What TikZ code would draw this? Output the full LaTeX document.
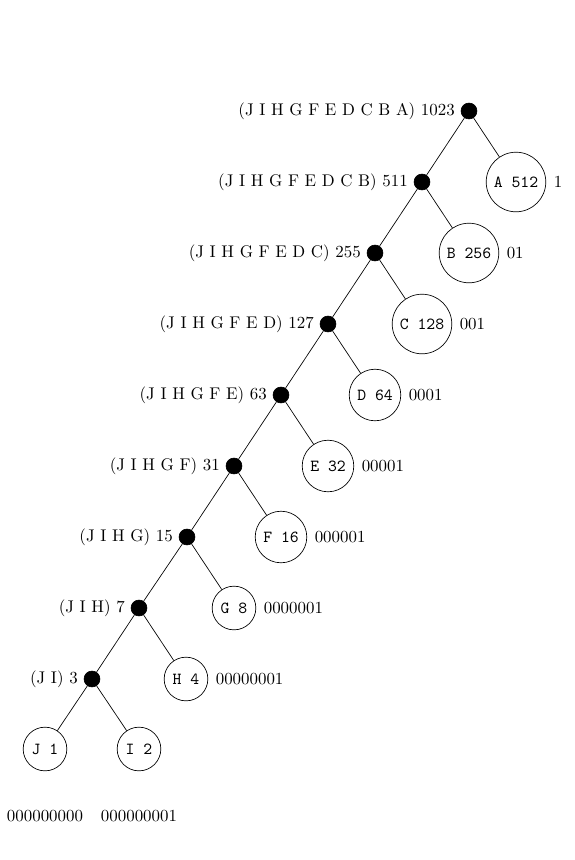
\documentclass[tikz,border=0pt]{standalone}
\begin{document}
\begin{tikzpicture}[x=0.5917pt,y=-0.5917pt,
  inner/.style={circle,fill=black,draw=black,inner sep=0pt,minimum size=9.4pt},
  leaf/.style={circle,draw=black,font=\ttfamily},
  code/.style={label distance=1pt},
  edge/.style={draw=black,line width=0.4pt}]
\useasboundingbox (0,0) rectangle (575,860);
\node[inner,label=left:{(J I H G F E D C B A) 1023}] (n1023) at (469,111) {};
\node[inner,label=left:{(J I H G F E D C B) 511}] (n511) at (422,182) {};
\node[inner,label=left:{(J I H G F E D C) 255}] (n255) at (375,253) {};
\node[inner,label=left:{(J I H G F E D) 127}] (n127) at (328,324) {};
\node[inner,label=left:{(J I H G F E) 63}] (n63) at (281,395) {};
\node[inner,label=left:{(J I H G F) 31}] (n31) at (234,466) {};
\node[inner,label=left:{(J I H G) 15}] (n15) at (187,537) {};
\node[inner,label=left:{(J I H) 7}] (n7) at (139,608) {};
\node[inner,label=left:{(J I) 3}] (n3) at (92,679) {};
\node[leaf,label={[code]right:1}] (A) at (516,182) {A 512};
\node[leaf,label={[code]right:01}] (B) at (469,253) {B 256};
\node[leaf,label={[code]right:001}] (C) at (422,324) {C 128};
\node[leaf,label={[code]right:0001}] (D) at (375,395) {D 64};
\node[leaf,label={[code]right:00001}] (E) at (328,466) {E 32};
\node[leaf,label={[code]right:000001}] (F) at (281,537) {F 16};
\node[leaf,label={[code]right:0000001}] (G) at (234,608) {G 8};
\node[leaf,label={[code]right:00000001}] (H) at (186,679) {H 4};
\node[leaf,label={[label distance=19.5pt]below:000000000}] (J) at (45,749) {J 1};
\node[leaf,label={[label distance=19.5pt]below:000000001}] (I) at (139,749) {I 2};
\draw[edge] (n1023) -- (n511);
\draw[edge] (n1023) -- (A);
\draw[edge] (n511) -- (n255);
\draw[edge] (n511) -- (B);
\draw[edge] (n255) -- (n127);
\draw[edge] (n255) -- (C);
\draw[edge] (n127) -- (n63);
\draw[edge] (n127) -- (D);
\draw[edge] (n63) -- (n31);
\draw[edge] (n63) -- (E);
\draw[edge] (n31) -- (n15);
\draw[edge] (n31) -- (F);
\draw[edge] (n15) -- (n7);
\draw[edge] (n15) -- (G);
\draw[edge] (n7) -- (n3);
\draw[edge] (n7) -- (H);
\draw[edge] (n3) -- (J);
\draw[edge] (n3) -- (I);
\end{tikzpicture}
\end{document}
